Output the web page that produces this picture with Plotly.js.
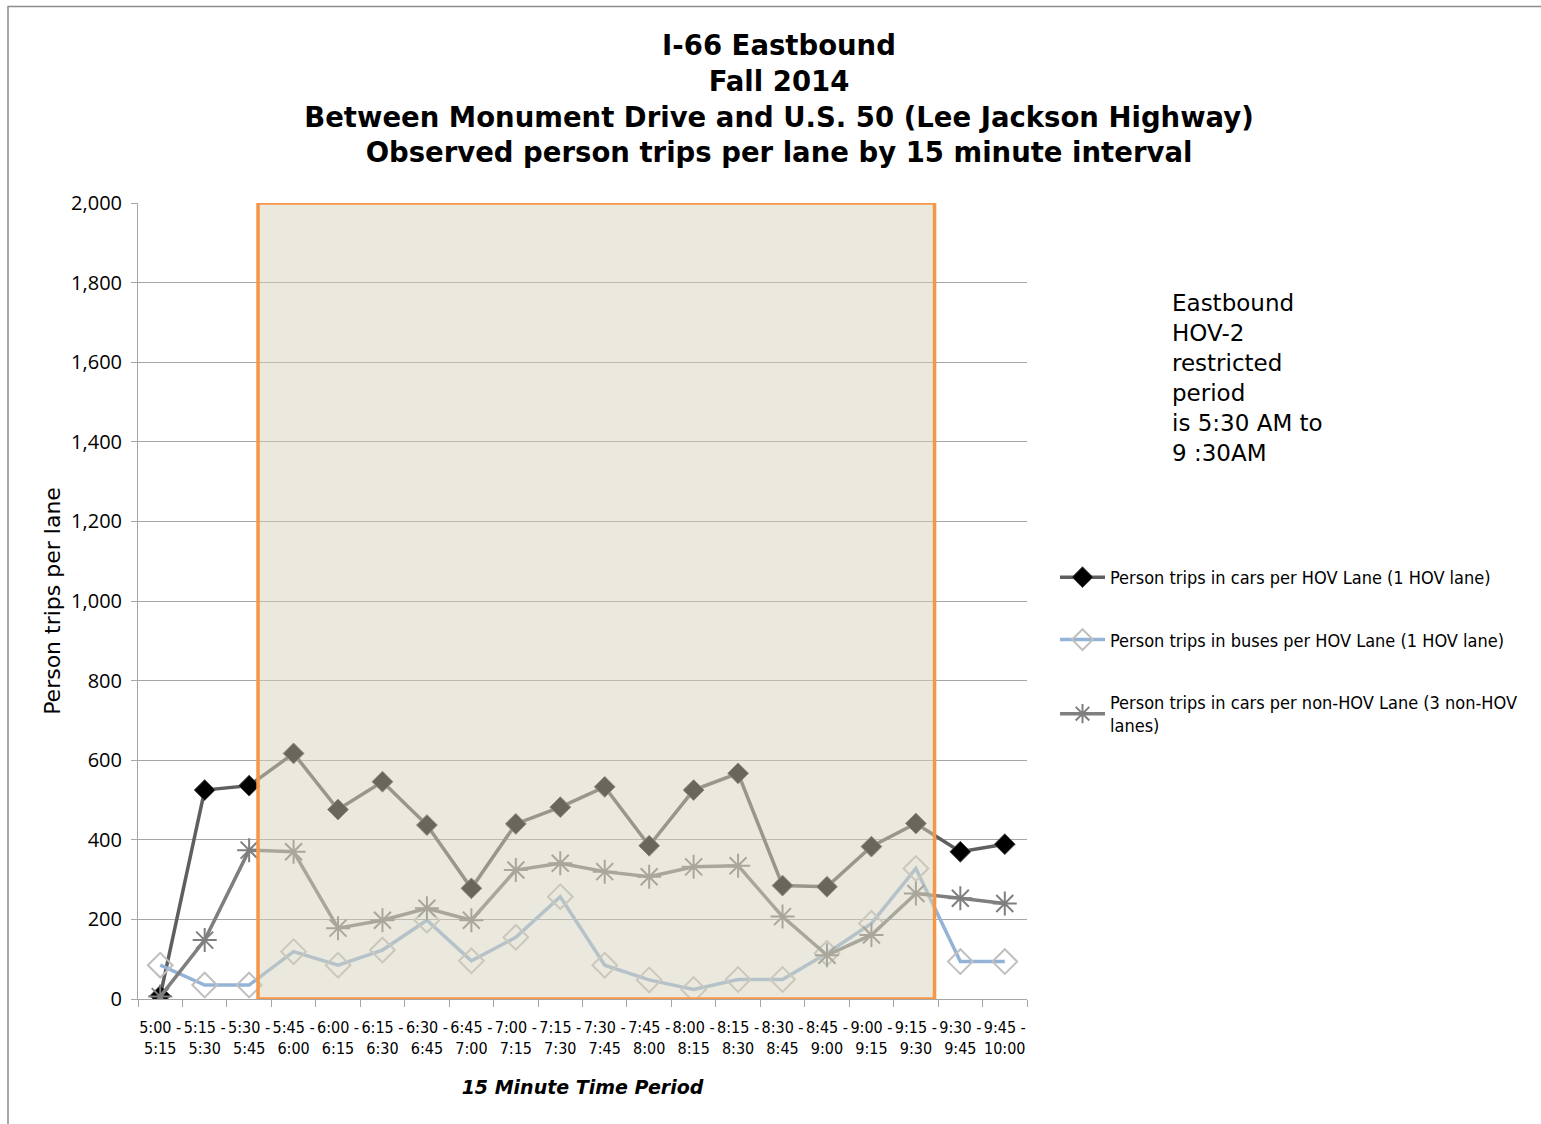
<!DOCTYPE html>
<html>
<head>
<meta charset="utf-8">
<script src="https://cdn.plot.ly/plotly-3.0.1.min.js"></script>
<style>html,body{margin:0;padding:0;background:#fff;}#chart{width:1541px;height:1124px;}</style>
</head>
<body>
<div id="chart"></div>
<script>
// ---- data ----
const periods = ["5:00 -<br>5:15","5:15 -<br>5:30","5:30 -<br>5:45","5:45 -<br>6:00","6:00 -<br>6:15","6:15 -<br>6:30","6:30 -<br>6:45","6:45 -<br>7:00","7:00 -<br>7:15","7:15 -<br>7:30","7:30 -<br>7:45","7:45 -<br>8:00","8:00 -<br>8:15","8:15 -<br>8:30","8:30 -<br>8:45","8:45 -<br>9:00","9:00 -<br>9:15","9:15 -<br>9:30","9:30 -<br>9:45","9:45 -<br>10:00"];
const hovCars    = [8, 525, 536, 617, 476, 546, 437, 278, 440, 482, 533, 385, 525, 567, 285, 282, 383, 441, 370, 389];
const hovBuses   = [85, 35, 35, 119, 85, 123, 198, 96, 155, 257, 85, 48, 24, 49, 49, 115, 190, 328, 94, 94];
const nonHovCars = [6, 148, 374, 370, 178, 198, 228, 198, 324, 341, 320, 307, 332, 335, 207, 110, 161, 265, 253, 240];
const seriesNames = [
  "Person trips in cars per HOV Lane (1 HOV lane)",
  "Person trips in buses per HOV Lane (1 HOV lane)",
  "Person trips in cars per non-HOV Lane (3 non-HOV<br>lanes)"
];
const titleLines = ["I-66 Eastbound","Fall 2014","Between Monument Drive and U.S. 50 (Lee Jackson Highway)","Observed person trips per lane by 15 minute interval"];
const noteLines = ["Eastbound","HOV-2","restricted","period","is 5:30 AM to","9 :30AM"];

const condensed = "'Liberation Sans Narrow', 'Arial Narrow', 'DejaVu Sans Condensed', sans-serif";

const traces = [
  {x: periods, y: hovCars, name: seriesNames[0], type: "scatter", mode: "lines+markers",
   legendgroup: "a",
   line: {color: "#5f5f5f", width: 3.5},
   marker: {symbol: "diamond", size: 16, color: "#000000", line: {color: "#4a4a4a", width: 1}}},
  {x: periods, y: hovBuses, name: seriesNames[1], type: "scatter", mode: "lines+markers",
   legendgroup: "b",
   line: {color: "#95B3D7", width: 3.5},
   marker: {symbol: "diamond-open", size: 19, color: "#BFBFBF", line: {color: "#BFBFBF", width: 2}}},
  {x: periods, y: nonHovCars, name: seriesNames[2], type: "scatter", mode: "lines+markers",
   legendgroup: "c",
   line: {color: "#7F7F7F", width: 3.5},
   marker: {symbol: "asterisk-open", size: 20, color: "#7F7F7F", line: {color: "#7F7F7F", width: 2}}}
];

const layout = {
  width: 1541, height: 1124,
  margin: {l: 138, r: 514, t: 203, b: 125},
  paper_bgcolor: "#ffffff", plot_bgcolor: "#ffffff",
  showlegend: true,
  title: {
    text: titleLines.map(s => "<b>" + s + "</b>").join("<br>"),
    font: {family: "'DejaVu Sans', sans-serif", size: 27.5, color: "#000"},
    x: 779/1541, xanchor: "center", xref: "container",
    y: 1 - 55/1124, yanchor: "top", yref: "container"
  },
  xaxis: {
    type: "category",
    range: [-0.5, 19.5],
    showgrid: false,
    showline: true, linecolor: "#A6A6A6", linewidth: 1,
    ticks: "outside", tickson: "boundaries", ticklen: 7, tickcolor: "#A6A6A6",
    tickangle: 0, ticklabelstandoff: 14,
    tickfont: {family: condensed, size: 16, color: "#000"},
    title: {text: "<b><i>15 Minute Time Period</i></b>", font: {family: "'DejaVu Sans', sans-serif", size: 19, color: "#000"}, standoff: 23},
    automargin: false, fixedrange: true
  },
  yaxis: {
    range: [0, 2000], dtick: 200, tickformat: ",d",
    showgrid: true, gridcolor: "#A6A6A6", gridwidth: 1,
    showline: true, linecolor: "#A6A6A6", linewidth: 1,
    ticks: "outside", ticklen: 6, tickcolor: "#A6A6A6",
    zeroline: false, ticklabelstandoff: 5,
    tickfont: {family: "'Open Sans', sans-serif", size: 20, color: "#000"},
    title: {text: "Person trips per lane", font: {family: "'DejaVu Sans', sans-serif", size: 22, color: "#000"}, standoff: 4},
    automargin: false, fixedrange: true
  },
  legend: {
    x: (1055-138)/889, xanchor: "left",
    y: (999-559)/796, yanchor: "top",
    traceorder: "grouped", tracegroupgap: 36,
    itemwidth: 45,
    font: {family: condensed, size: 18, color: "#000"},
    bgcolor: "rgba(0,0,0,0)"
  },
  shapes: [
    {type: "rect", xref: "x", yref: "y", x0: 2.2, x1: 17.42, y0: 0, y1: 2000,
     layer: "above", fillcolor: "rgba(214,210,186,0.49)", line: {color: "#F79646", width: 3.5}},
    {type: "rect", xref: "paper", yref: "paper",
     x0: (8-138)/889, x1: (1560-138)/889, y0: (999-1140)/796, y1: (999-6.5)/796,
     layer: "below", fillcolor: "rgba(0,0,0,0)", line: {color: "#8c8c8c", width: 1.5}}
  ],
  annotations: [
    {xref: "paper", yref: "paper", x: (1170-138)/889, xanchor: "left",
     y: (999-288)/796, yanchor: "top", align: "left", showarrow: false,
     text: noteLines.join("<br>"),
     font: {family: "'DejaVu Sans', sans-serif", size: 23, color: "#000"}}
  ]
};

Plotly.newPlot("chart", traces, layout, {displayModeBar: false, staticPlot: true});
</script>
</body>
</html>
